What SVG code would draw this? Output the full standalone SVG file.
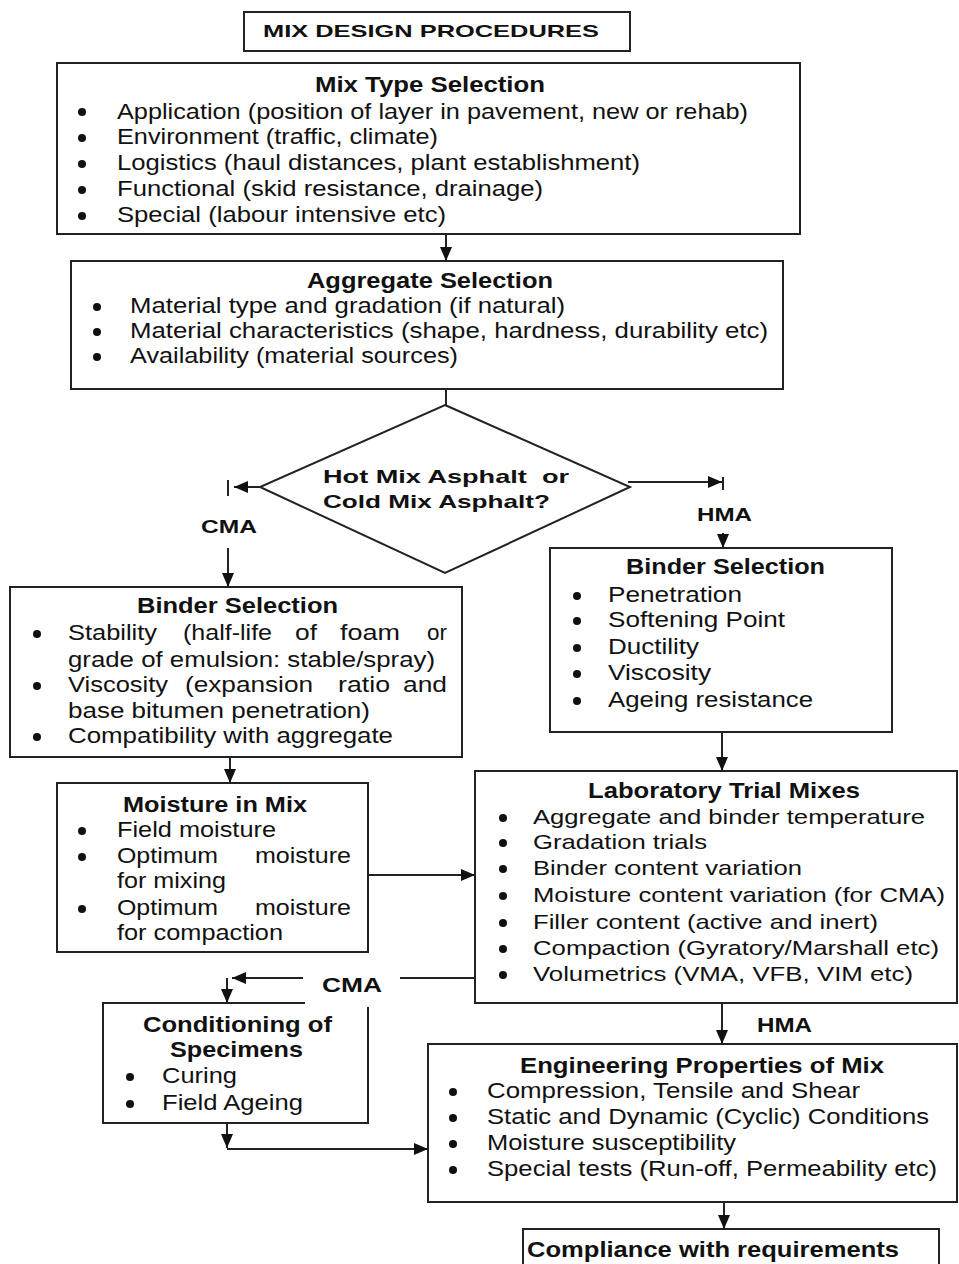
<svg xmlns="http://www.w3.org/2000/svg" width="959" height="1264" viewBox="0 0 959 1264">
<defs>
<style>
.box{fill:#fff;stroke:#222;stroke-width:2}
.ln{fill:none;stroke:#222;stroke-width:2}
.t{font-family:"Liberation Sans",Arial,sans-serif;font-size:22px;fill:#111}
.tb{font-family:"Liberation Sans",Arial,sans-serif;font-size:22px;font-weight:bold;fill:#111}
.bl{fill:#111}
</style>
<marker id="ah" markerUnits="userSpaceOnUse" markerWidth="14" markerHeight="12" viewBox="0 0 14 12" refX="14" refY="6" orient="auto">
<path d="M0,0 L14,6 L0,12 z" fill="#111"/>
</marker>
</defs>
<rect width="959" height="1264" fill="#fff"/>

<g id="title">
<rect class="box" x="244" y="12" width="386" height="39"/>
<text class="tb" x="263" y="37" style="font-size:17px" textLength="336" lengthAdjust="spacingAndGlyphs">MIX DESIGN PROCEDURES</text>
</g>

<g id="mix-type">
<rect class="box" x="57" y="63" width="743" height="171"/>
<text class="tb" x="315" y="92" textLength="230" lengthAdjust="spacingAndGlyphs">Mix Type Selection</text>
<circle class="bl" cx="82" cy="112" r="4"/><text class="t" x="117" y="119" textLength="631" lengthAdjust="spacingAndGlyphs">Application (position of layer in pavement, new or rehab)</text>
<circle class="bl" cx="82" cy="138" r="4"/><text class="t" x="117" y="144" textLength="321" lengthAdjust="spacingAndGlyphs">Environment (traffic, climate)</text>
<circle class="bl" cx="82" cy="164" r="4"/><text class="t" x="117" y="170" textLength="523" lengthAdjust="spacingAndGlyphs">Logistics (haul distances, plant establishment)</text>
<circle class="bl" cx="82" cy="190" r="4"/><text class="t" x="117" y="196" textLength="426" lengthAdjust="spacingAndGlyphs">Functional (skid resistance, drainage)</text>
<circle class="bl" cx="82" cy="216" r="4"/><text class="t" x="117" y="222" textLength="329" lengthAdjust="spacingAndGlyphs">Special (labour intensive etc)</text>
</g>

<g id="aggregate">
<rect class="box" x="71" y="261" width="712" height="128"/>
<text class="tb" x="307" y="288" textLength="246" lengthAdjust="spacingAndGlyphs">Aggregate Selection</text>
<circle class="bl" cx="97" cy="307" r="4"/><text class="t" x="130" y="313" textLength="435" lengthAdjust="spacingAndGlyphs">Material type and gradation (if natural)</text>
<circle class="bl" cx="97" cy="332" r="4"/><text class="t" x="130" y="338" textLength="638" lengthAdjust="spacingAndGlyphs">Material characteristics (shape, hardness, durability etc)</text>
<circle class="bl" cx="97" cy="357" r="4"/><text class="t" x="130" y="363" textLength="328" lengthAdjust="spacingAndGlyphs">Availability (material sources)</text>
</g>

<g id="decision">
<polygon class="box" points="445,405 630,487 445,573 260,487"/>
<text class="tb" x="323" y="483" style="font-size:19px" textLength="246" lengthAdjust="spacingAndGlyphs">Hot Mix Asphalt&#160; or</text>
<text class="tb" x="323" y="508" style="font-size:19px" textLength="227" lengthAdjust="spacingAndGlyphs">Cold Mix Asphalt?</text>
</g>

<g id="binder-hma">
<rect class="box" x="550" y="548" width="342" height="184"/>
<text class="tb" x="626" y="574" textLength="199" lengthAdjust="spacingAndGlyphs">Binder Selection</text>
<circle class="bl" cx="577" cy="596" r="4"/><text class="t" x="608" y="602" textLength="134" lengthAdjust="spacingAndGlyphs">Penetration</text>
<circle class="bl" cx="577" cy="621" r="4"/><text class="t" x="608" y="627" textLength="177" lengthAdjust="spacingAndGlyphs">Softening Point</text>
<circle class="bl" cx="577" cy="648" r="4"/><text class="t" x="608" y="654" textLength="91" lengthAdjust="spacingAndGlyphs">Ductility</text>
<circle class="bl" cx="577" cy="674" r="4"/><text class="t" x="608" y="680" textLength="103" lengthAdjust="spacingAndGlyphs">Viscosity</text>
<circle class="bl" cx="577" cy="701" r="4"/><text class="t" x="608" y="707" textLength="205" lengthAdjust="spacingAndGlyphs">Ageing resistance</text>
</g>

<g id="binder-cma">
<rect class="box" x="10" y="587" width="452" height="170"/>
<text class="tb" x="137" y="613" textLength="201" lengthAdjust="spacingAndGlyphs">Binder Selection</text>
<circle class="bl" cx="37" cy="634" r="4"/>
<text class="t" y="640"><tspan x="68" textLength="89" lengthAdjust="spacingAndGlyphs">Stability</tspan> <tspan x="183" textLength="89" lengthAdjust="spacingAndGlyphs">(half-life</tspan> <tspan x="295" textLength="22" lengthAdjust="spacingAndGlyphs">of</tspan> <tspan x="340" textLength="60" lengthAdjust="spacingAndGlyphs">foam</tspan> <tspan x="427" textLength="20" lengthAdjust="spacingAndGlyphs">or</tspan></text>
<text class="t" x="68" y="667" textLength="367" lengthAdjust="spacingAndGlyphs">grade of emulsion: stable/spray)</text>
<circle class="bl" cx="37" cy="686" r="4"/>
<text class="t" y="692"><tspan x="68" textLength="100" lengthAdjust="spacingAndGlyphs">Viscosity</tspan> <tspan x="185" textLength="128" lengthAdjust="spacingAndGlyphs">(expansion</tspan> <tspan x="338" textLength="52" lengthAdjust="spacingAndGlyphs">ratio</tspan> <tspan x="403" textLength="44" lengthAdjust="spacingAndGlyphs">and</tspan></text>
<text class="t" x="68" y="718" textLength="302" lengthAdjust="spacingAndGlyphs">base bitumen penetration)</text>
<circle class="bl" cx="37" cy="737" r="4"/><text class="t" x="68" y="743" textLength="325" lengthAdjust="spacingAndGlyphs">Compatibility with aggregate</text>
</g>

<g id="moisture">
<rect class="box" x="57" y="783" width="311" height="169"/>
<text class="tb" x="123" y="812" textLength="184" lengthAdjust="spacingAndGlyphs">Moisture in Mix</text>
<circle class="bl" cx="82" cy="831" r="4"/><text class="t" x="117" y="837" textLength="159" lengthAdjust="spacingAndGlyphs">Field moisture</text>
<circle class="bl" cx="82" cy="857" r="4"/>
<text class="t" y="863"><tspan x="117" textLength="101" lengthAdjust="spacingAndGlyphs">Optimum</tspan> <tspan x="255" textLength="96" lengthAdjust="spacingAndGlyphs">moisture</tspan></text>
<text class="t" x="117" y="888" textLength="109" lengthAdjust="spacingAndGlyphs">for mixing</text>
<circle class="bl" cx="82" cy="909" r="4"/>
<text class="t" y="915"><tspan x="117" textLength="101" lengthAdjust="spacingAndGlyphs">Optimum</tspan> <tspan x="255" textLength="96" lengthAdjust="spacingAndGlyphs">moisture</tspan></text>
<text class="t" x="117" y="940" textLength="166" lengthAdjust="spacingAndGlyphs">for compaction</text>
</g>

<g id="lab-trials">
<rect class="box" x="475" y="771" width="482" height="232"/>
<text class="tb" x="588" y="798" textLength="272" lengthAdjust="spacingAndGlyphs">Laboratory Trial Mixes</text>
<circle class="bl" cx="503" cy="818" r="4"/><text class="t" x="533" y="824" style="font-size:21px" textLength="392" lengthAdjust="spacingAndGlyphs">Aggregate and binder temperature</text>
<circle class="bl" cx="503" cy="843" r="4"/><text class="t" x="533" y="849" style="font-size:21px" textLength="174" lengthAdjust="spacingAndGlyphs">Gradation trials</text>
<circle class="bl" cx="503" cy="869" r="4"/><text class="t" x="533" y="875" style="font-size:21px" textLength="269" lengthAdjust="spacingAndGlyphs">Binder content variation</text>
<circle class="bl" cx="503" cy="896" r="4"/><text class="t" x="533" y="902" style="font-size:21px" textLength="412" lengthAdjust="spacingAndGlyphs">Moisture content variation (for CMA)</text>
<circle class="bl" cx="503" cy="923" r="4"/><text class="t" x="533" y="929" style="font-size:21px" textLength="345" lengthAdjust="spacingAndGlyphs">Filler content (active and inert)</text>
<circle class="bl" cx="503" cy="949" r="4"/><text class="t" x="533" y="955" style="font-size:21px" textLength="406" lengthAdjust="spacingAndGlyphs">Compaction (Gyratory/Marshall etc)</text>
<circle class="bl" cx="503" cy="975" r="4"/><text class="t" x="533" y="981" style="font-size:21px" textLength="380" lengthAdjust="spacingAndGlyphs">Volumetrics (VMA, VFB, VIM etc)</text>
</g>

<g id="conditioning">
<path class="ln" d="M305,1003 H103 V1123 H368 V1007"/>
<text class="tb" x="143" y="1032" textLength="189" lengthAdjust="spacingAndGlyphs">Conditioning of</text>
<text class="tb" x="170" y="1057" textLength="133" lengthAdjust="spacingAndGlyphs">Specimens</text>
<circle class="bl" cx="130" cy="1077" r="4"/><text class="t" x="162" y="1083" textLength="75" lengthAdjust="spacingAndGlyphs">Curing</text>
<circle class="bl" cx="130" cy="1104" r="4"/><text class="t" x="162" y="1110" textLength="141" lengthAdjust="spacingAndGlyphs">Field Ageing</text>
</g>

<g id="engineering">
<rect class="box" x="428" y="1044" width="529" height="158"/>
<text class="tb" x="520" y="1073" textLength="364" lengthAdjust="spacingAndGlyphs">Engineering Properties of Mix</text>
<circle class="bl" cx="453" cy="1092" r="4"/><text class="t" x="487" y="1098" textLength="373" lengthAdjust="spacingAndGlyphs">Compression, Tensile and Shear</text>
<circle class="bl" cx="453" cy="1118" r="4"/><text class="t" x="487" y="1124" textLength="442" lengthAdjust="spacingAndGlyphs">Static and Dynamic (Cyclic) Conditions</text>
<circle class="bl" cx="453" cy="1144" r="4"/><text class="t" x="487" y="1150" textLength="249" lengthAdjust="spacingAndGlyphs">Moisture susceptibility</text>
<circle class="bl" cx="453" cy="1170" r="4"/><text class="t" x="487" y="1176" textLength="450" lengthAdjust="spacingAndGlyphs">Special tests (Run-off, Permeability etc)</text>
</g>

<g id="compliance">
<rect class="box" x="523" y="1229" width="416" height="50"/>
<text class="tb" x="527" y="1257" textLength="372" lengthAdjust="spacingAndGlyphs">Compliance with requirements</text>
</g>

<g id="connectors">
<path class="ln" d="M446,234 V261" marker-end="url(#ah)"/>
<path class="ln" d="M446,389 V405"/>
<path class="ln" d="M260,487 H234" marker-end="url(#ah)"/>
<path class="ln" d="M228,480 V496"/>
<path class="ln" d="M228,548 V587" marker-end="url(#ah)"/>
<path class="ln" d="M628,482 H722" marker-end="url(#ah)"/>
<path class="ln" d="M723,477 V490"/>
<path class="ln" d="M723,533 V548" marker-end="url(#ah)"/>
<path class="ln" d="M722,732 V771" marker-end="url(#ah)"/>
<path class="ln" d="M230,757 V783" marker-end="url(#ah)"/>
<path class="ln" d="M368,875 H475" marker-end="url(#ah)"/>
<path class="ln" d="M475,978 H400"/>
<path class="ln" d="M303,978 H232" marker-end="url(#ah)"/>
<path class="ln" d="M227,978 V1003" marker-end="url(#ah)"/>
<path class="ln" d="M227,1123 V1148" marker-end="url(#ah)"/>
<path class="ln" d="M227,1149 H428" marker-end="url(#ah)"/>
<path class="ln" d="M722,1003 V1044" marker-end="url(#ah)"/>
<path class="ln" d="M724,1202 V1229" marker-end="url(#ah)"/>
<text class="tb" x="201" y="533" style="font-size:19px" textLength="56" lengthAdjust="spacingAndGlyphs">CMA</text>
<text class="tb" x="697" y="521" style="font-size:19px" textLength="55" lengthAdjust="spacingAndGlyphs">HMA</text>
<text class="tb" x="322" y="992" style="font-size:21px" textLength="60" lengthAdjust="spacingAndGlyphs">CMA</text>
<text class="tb" x="757" y="1032" style="font-size:21px" textLength="55" lengthAdjust="spacingAndGlyphs">HMA</text>
</g>
</svg>
